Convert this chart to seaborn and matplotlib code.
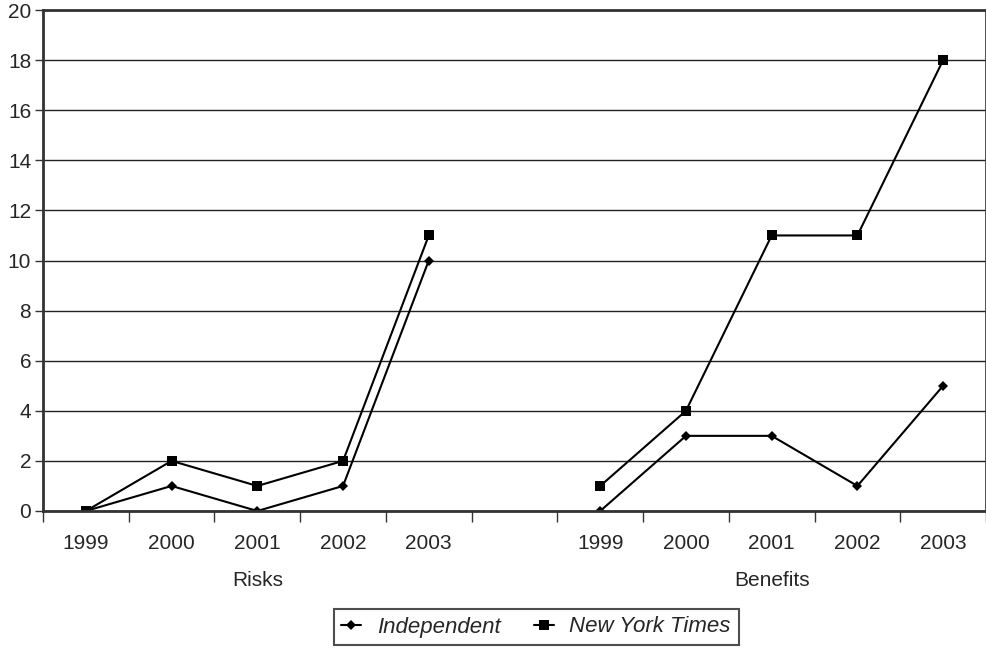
import matplotlib
matplotlib.use("Agg")
import matplotlib.pyplot as plt
import matplotlib.transforms as mtransforms
from matplotlib.lines import Line2D
import seaborn as sns
import pandas as pd
import numpy as np

years = ["1999", "2000", "2001", "2002", "2003"]
groups = ["Risks", "Benefits"]
series = ["Independent", "New York Times"]
independent_risks = [0, 1, 0, 1, 10]
nyt_risks = [0, 2, 1, 2, 11]
independent_benefits = [0, 3, 3, 1, 5]
nyt_benefits = [1, 4, 11, 11, 18]

values = {
    ("Independent", "Risks"): independent_risks,
    ("New York Times", "Risks"): nyt_risks,
    ("Independent", "Benefits"): independent_benefits,
    ("New York Times", "Benefits"): nyt_benefits,
}

rows = []
slots_per_group = len(years) + 1  # one empty slot between groups
for (s, g), vals in values.items():
    gi = groups.index(g)
    for yi, (yr, v) in enumerate(zip(years, vals)):
        rows.append({"series": s, "group": g, "year": yr,
                     "pos": gi * slots_per_group + yi, "value": v})
df = pd.DataFrame(rows)

sns.set_style("white")
plt.rcParams["font.family"] = ["Liberation Sans", "DejaVu Sans"]

fig = plt.figure(figsize=(9.87, 6.48), dpi=100)
ax = fig.add_axes([43 / 987, 1 - 511 / 648, (986 - 43) / 987, (511 - 10) / 648])

sns.lineplot(data=df, x="pos", y="value", hue="series", style="series",
             units="group", estimator=None, markers={"Independent": "D", "New York Times": "s"},
             dashes=False, palette={"Independent": "black", "New York Times": "black"},
             markersize=6, linewidth=1.5, markeredgewidth=0, ax=ax, legend=False)
for line in ax.lines:
    if line.get_marker() == "D":
        line.set_markersize(5)
    elif line.get_marker() == "s":
        line.set_markersize(7)

n_slots = len(groups) * slots_per_group - 1
ax.set_xlim(-0.5, n_slots - 0.5)
ax.set_ylim(0, 20)

# y axis
ax.set_yticks(np.arange(0, 21, 2))
ax.yaxis.grid(True, color="#222222", linewidth=1.0)
ax.set_axisbelow(True)
ax.tick_params(axis="y", which="major", left=True, length=6, width=1, color="#333333",
               labelsize=15, pad=2.5)

# x axis: boundaries as major ticks, labels at centers
ax.set_xticks(np.arange(-0.5, n_slots, 1.0))
ax.set_xticklabels([])
centers = []
labels = []
for gi, g in enumerate(groups):
    for yi, yr in enumerate(years):
        centers.append(gi * slots_per_group + yi)
        labels.append(yr)
ax.set_xticks(centers, minor=True)
ax.set_xticklabels(labels, minor=True)
ax.tick_params(axis="x", which="major", bottom=True, length=8, width=1, color="#333333",
               direction="out")
ax.tick_params(axis="x", which="minor", bottom=True, length=0, labelsize=15, pad=16.5)
ax.set_xlabel("")
ax.set_ylabel("")

for side in ["left", "top", "right", "bottom"]:
    ax.spines[side].set_visible(True)
    ax.spines[side].set_color("#333333")
ax.spines["left"].set_linewidth(2)
ax.spines["bottom"].set_linewidth(2)
ax.spines["top"].set_linewidth(2)
ax.spines["right"].set_linewidth(1.2)

trans = mtransforms.blended_transform_factory(ax.transData, fig.transFigure)
for gi, g in enumerate(groups):
    cx = gi * slots_per_group + (len(years) - 1) / 2
    ax.text(cx, 1 - 580 / 648, g, transform=trans, ha="center", va="center", fontsize=15)

handles = [
    Line2D([], [], color="black", marker="D", markersize=5, linewidth=1.5, markeredgewidth=0),
    Line2D([], [], color="black", marker="s", markersize=7, linewidth=1.5, markeredgewidth=0),
]
leg = fig.legend(handles, series, loc="center", bbox_to_anchor=(536 / 987, 1 - 627 / 648),
                 ncol=2, frameon=True, fancybox=False, edgecolor="#222222",
                 prop={"size": 16, "style": "italic"}, handlelength=0.9, handletextpad=0.7,
                 columnspacing=1.5, borderpad=0.35, borderaxespad=0)
leg.get_frame().set_linewidth(1.5)

fig.savefig("out.png", dpi=100)
